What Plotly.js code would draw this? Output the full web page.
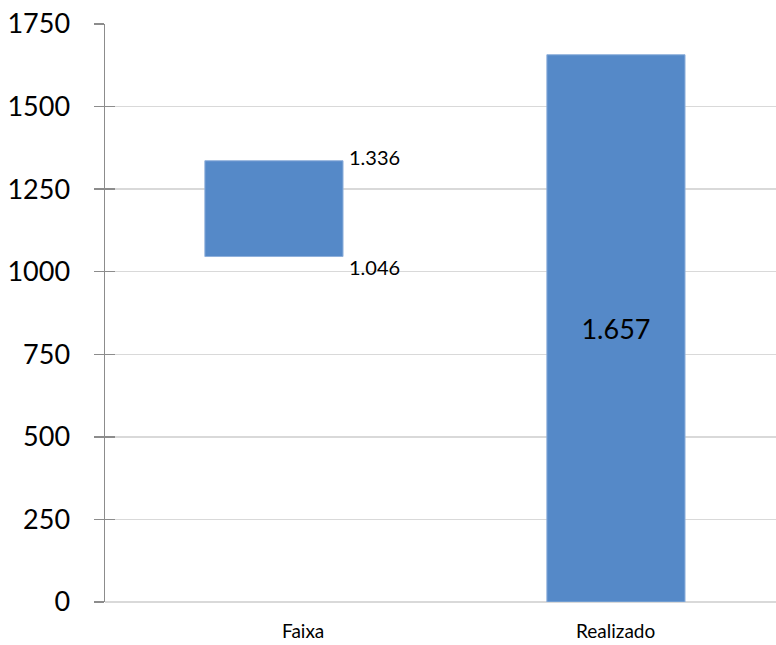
<!DOCTYPE html>
<html><head><meta charset="utf-8">
<script src="https://cdn.plot.ly/plotly-3.0.1.min.js"></script>
<style>html,body{margin:0;padding:0;background:#fff}</style>
</head><body>
<div id="chart" style="width:776px;height:645px"></div>
<script>
var categories = ['Faixa', 'Realizado'];
var barBase = [1046, 0];
var barTop = [1336, 1657];
var yTicks = [0, 250, 500, 750, 1000, 1250, 1500, 1750];

function fmt(v) {
  var s = String(Math.round(v));
  return s.replace(/\B(?=(\d{3})+(?!\d))/g, '.');
}

var heights = barTop.map(function (t, i) { return t - barBase[i]; });
var FONT = 'Lato, "Open Sans", sans-serif';
var BLUE = '#5589C8';

var trace = {
  type: 'bar',
  x: categories,
  y: heights,
  base: barBase,
  width: 0.404,
  marker: { color: BLUE, line: { color: '#8FB0DB', width: 1 } },
  text: ['', fmt(barTop[1])],
  textposition: 'inside',
  insidetextanchor: 'middle',
  textfont: { family: FONT, size: 27, color: '#000' },
  hoverinfo: 'none',
  cliponaxis: false
};
var ghost = {
  type: 'scatter', x: [categories[0]], y: [0], yaxis: 'y2',
  mode: 'markers', marker: { opacity: 0 }, hoverinfo: 'none', showlegend: false
};

var annotations = [
  { x: 0, y: barTop[0], xref: 'x', yref: 'y', text: fmt(barTop[0]), showarrow: false,
    xanchor: 'left', yanchor: 'middle', xshift: 73, yshift: 4,
    font: { family: FONT, size: 20, color: '#000' } },
  { x: 0, y: barBase[0], xref: 'x', yref: 'y', text: fmt(barBase[0]), showarrow: false,
    xanchor: 'left', yanchor: 'middle', xshift: 73, yshift: -10,
    font: { family: FONT, size: 20, color: '#000' } },
  { x: 0, y: 0, xref: 'x', yref: 'paper', text: categories[0], showarrow: false,
    xanchor: 'center', yanchor: 'top', xshift: 29, yshift: -15,
    font: { family: FONT, size: 19, color: '#000' } },
  { x: 1, y: 0, xref: 'x', yref: 'paper', text: categories[1], showarrow: false,
    xanchor: 'center', yanchor: 'top', yshift: -15,
    font: { family: FONT, size: 19, color: '#000' } }
];

var layout = {
  width: 776, height: 645,
  margin: { l: 105, r: 0, t: 24, b: 43 },
  paper_bgcolor: '#fff', plot_bgcolor: '#fff',
  showlegend: false,
  separators: ',.',
  xaxis: {
    type: 'category', range: [-0.494, 1.468],
    showticklabels: false, ticks: '', showgrid: false, showline: false, zeroline: false
  },
  yaxis: {
    range: [0, 1750], tickvals: yTicks, ticktext: yTicks.map(String),
    showgrid: true, gridcolor: '#D9D9D9', gridwidth: 1.5,
    zeroline: true, zerolinecolor: '#D9D9D9', zerolinewidth: 1.5,
    showline: true, linecolor: '#8C8C8C', linewidth: 1.5,
    ticks: 'outside', ticklen: 10, tickcolor: '#8C8C8C', tickwidth: 1.5,
    ticklabelstandoff: 18,
    tickfont: { family: FONT, size: 27, color: '#000' }
  },
  yaxis2: {
    overlaying: 'y', side: 'left', range: [0, 1750], tickvals: yTicks,
    showticklabels: false, showgrid: false, zeroline: false, showline: false,
    ticks: 'inside', ticklen: 10, tickcolor: '#8C8C8C', tickwidth: 1.5
  },
  annotations: annotations
};

Plotly.newPlot('chart', [trace, ghost], layout, { displayModeBar: false, staticPlot: true });
</script>
</body></html>
